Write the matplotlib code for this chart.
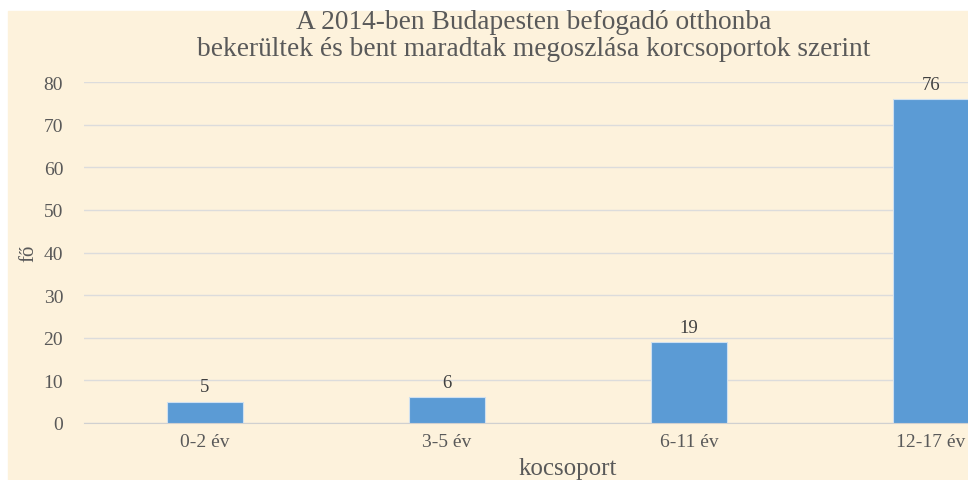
import matplotlib.pyplot as plt
from matplotlib.patches import Rectangle

categories = ["0-2 év", "3-5 év", "6-11 év", "12-17 év"]
values = [5, 6, 19, 76]
yticks = [0, 10, 20, 30, 40, 50, 60, 70, 80]

TITLE = "A 2014-ben Budapesten befogadó otthonba\nbekerültek és bent maradtak megoszlása korcsoportok szerint"
BG = "#fdf2dc"
TEXT = "#595959"

plt.rcParams["font.family"] = ["Liberation Serif", "DejaVu Serif"]

fig = plt.figure(figsize=(9.68, 4.81), dpi=100)
fig.patch.set_facecolor("white")
# cream chart area, leaving the thin white strip on top and left
fig.patches.append(Rectangle((8 / 968, 0), 1, 1 - 12 / 481,
                             transform=fig.transFigure, color=BG, zorder=-10))

ax = fig.add_axes([84 / 968, 57 / 481, 968 / 968, 341 / 481])
ax.set_facecolor("none")

x = range(len(categories))
ax.bar(x, values, width=0.315, color="#5b9bd5", edgecolor="#cfe0f0",
       linewidth=0.8, zorder=3)
for xi, v in zip(x, values):
    ax.text(xi, v + 1.5, str(v), ha="center", va="bottom", fontsize=13.5,
            color="#404040")

ax.set_xlim(-0.5, len(categories) - 0.5)
ax.set_ylim(0, 80)
ax.set_yticks(yticks)
ax.set_xticks(list(x))
ax.set_xticklabels(categories)
ax.tick_params(axis="both", length=0, labelsize=14, labelcolor=TEXT)
ax.tick_params(axis="x", pad=7)
ax.tick_params(axis="y", pad=15)
ax.grid(axis="y", color="#dcdcdc", linewidth=1, zorder=0)
ax.set_axisbelow(True)
for s in ["top", "right", "left"]:
    ax.spines[s].set_visible(False)
ax.spines["bottom"].set_color("#d0d0d0")

ax.set_ylabel("fő", fontsize=15, color=TEXT, labelpad=4)
ax.set_xlabel("kocsoport", fontsize=18, color=TEXT, labelpad=5)

fig.text(534 / 968, 1 - 36 / 481, TITLE, ha="center", va="center",
         fontsize=19.7, color=TEXT, linespacing=1.12)

fig.savefig("out.png", dpi=100, facecolor=fig.get_facecolor())
